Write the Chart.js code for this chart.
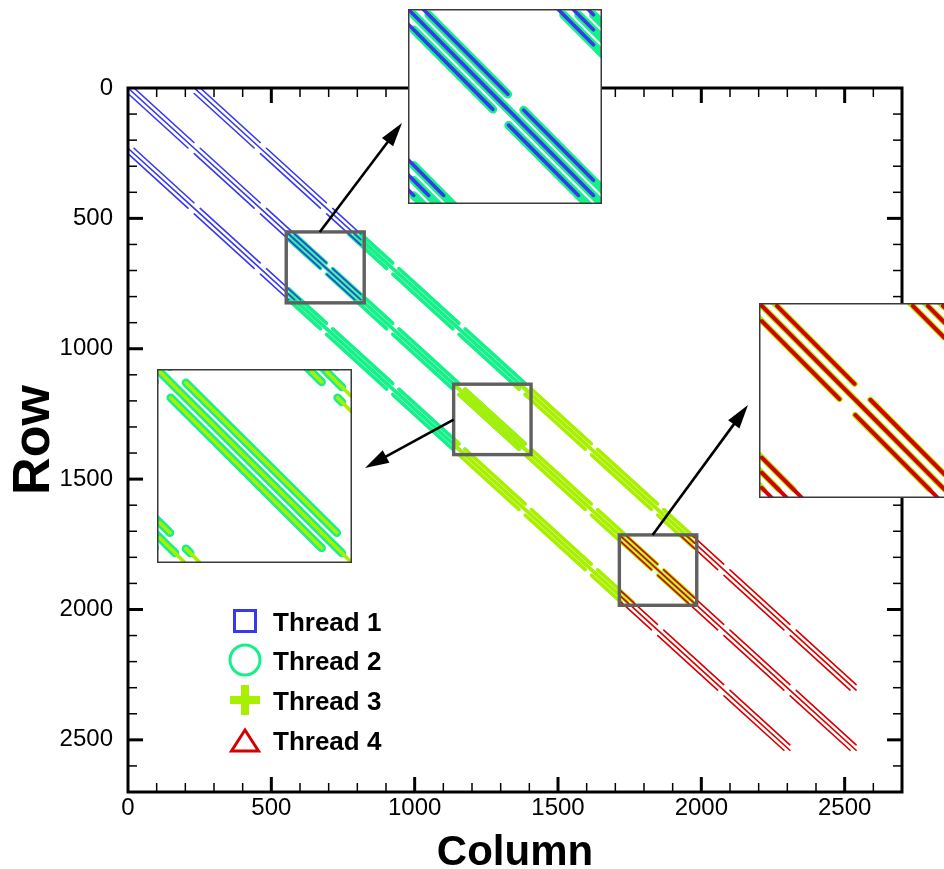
<!DOCTYPE html>
<html>
<head>
<meta charset="utf-8">
<title>Matrix pattern by thread</title>
<script src="https://cdn.jsdelivr.net/npm/chart.js@4.4.1/dist/chart.umd.min.js"></script>
<style>
  html, body { margin: 0; padding: 0; background: #fff; overflow: hidden; width: 944px; height: 869px; }
  #wrap { position: relative; width: 944px; height: 869px; overflow: hidden; }
  canvas { position: absolute; }
  .zoom { background: #fff; }
</style>
</head>
<body>
<div id="wrap">
  <canvas id="main" width="944" height="869" style="left:0;top:0"></canvas>
  <canvas id="zoom1" class="zoom" width="194" height="195" style="left:408px;top:9px"></canvas>
  <canvas id="zoom2" class="zoom" width="195" height="194" style="left:157px;top:369px"></canvas>
  <canvas id="zoom3" class="zoom" width="194" height="195" style="left:759px;top:303px"></canvas>
</div>
<script>
// ---- matrix structure (row / column indices) ----
const matrixSize = 2541;
const layerStarts = [0, 231, 462, 693, 924, 1155, 1386, 1617, 1848, 2079, 2310];
const bandOffsets = [-231, 0, 231];
const stripeOffsets = [-21, 0, 21];
// rows covered inside one layer by each stripe of a band
const stripeRows = { '-21': [21, 230], '0': [0, 230], '21': [0, 209] };

// ---- threads: index block owned by each thread ----
const threadNames = ['Thread 1', 'Thread 2', 'Thread 3', 'Thread 4'];
const threadRanges = [[0, 812], [560, 1392], [1140, 1972], [1718, 2540]];
const threadColors = ['#3838EC', '#16F08A', '#A8F000', '#D60000'];

// ---- axes ----
const tickValues = [0, 500, 1000, 1500, 2000, 2500];
const axisMax = 2700;
const minorStep = 100;

// ---- magnified windows [from, to] on both axes ----
const zoomRanges = [[552, 824], [1136, 1406], [1714, 1984]];
// arrow start on each window frame: [column, row]
const arrowStarts = [[669, 552], [1136, 1272], [1830, 1714]];

// ---- page layout (pixels) ----
const layout = {
  arrowTips: [[402, 123], [365, 468], [748, 405]],
  legend: { markerX: 245, textX: 273, baselines: [631, 670, 710, 750] },
  mainWidths: [1.6, 3.8, 3.7, 1.6],
  zoomWidths: [[3.6, 8.5, 6, 4], [3.6, 8.5, 3.6, 4], [3.6, 8.5, 6.2, 4]]
};

const FONT = "'Liberation Sans', Arial, Helvetica, sans-serif";

function buildThreadData(range) {
  const lo = range[0], hi = range[1];
  const pts = [];
  for (const band of bandOffsets) {
    for (const stripe of stripeOffsets) {
      const off = band + stripe;
      const rows = stripeRows[stripe];
      for (const start of layerStarts) {
        const r0 = Math.max(start + rows[0], lo, lo - off, 0, -off);
        const r1 = Math.min(start + rows[1], hi, hi - off, matrixSize - 1, matrixSize - 1 - off);
        if (r1 <= r0) continue;
        pts.push({ x: r0 + off, y: r0 }, { x: r1 + off, y: r1 }, { x: NaN, y: NaN });
      }
    }
  }
  return pts;
}

const threadData = threadRanges.map(buildThreadData);
// thread 1 over 2, 4 over 3 over 2 (lower order is painted last)
const drawOrder = [0, 3, 2, 1];

function makeDatasets(widths) {
  return threadNames.map((name, i) => ({
    label: name,
    data: threadData[i].slice(),
    showLine: true,
    borderColor: threadColors[i],
    backgroundColor: threadColors[i],
    borderWidth: widths[i],
    borderCapStyle: 'round',
    borderJoinStyle: 'round',
    pointRadius: 0,
    pointHoverRadius: 0,
    pointHitRadius: 0,
    spanGaps: false,
    order: drawOrder[i],
    clip: 0
  }));
}

function line(ctx, x1, y1, x2, y2) {
  ctx.beginPath(); ctx.moveTo(x1, y1); ctx.lineTo(x2, y2); ctx.stroke();
}

function arrow(ctx, x1, y1, x2, y2) {
  const ang = Math.atan2(y2 - y1, x2 - x1);
  const headLen = 24, headHalf = 7;
  const bx = x2 - headLen * Math.cos(ang), by = y2 - headLen * Math.sin(ang);
  ctx.strokeStyle = '#000'; ctx.fillStyle = '#000'; ctx.lineWidth = 2.6; ctx.lineCap = 'butt';
  line(ctx, x1, y1, bx + 4 * Math.cos(ang), by + 4 * Math.sin(ang));
  ctx.beginPath();
  ctx.moveTo(x2, y2);
  ctx.lineTo(bx + headHalf * Math.sin(ang), by - headHalf * Math.cos(ang));
  ctx.lineTo(bx - headHalf * Math.sin(ang), by + headHalf * Math.cos(ang));
  ctx.closePath();
  ctx.fill();
}

function legendMarker(ctx, i, cx, cy) {
  ctx.save();
  ctx.strokeStyle = threadColors[i]; ctx.fillStyle = threadColors[i];
  ctx.lineWidth = 3; ctx.lineJoin = 'miter';
  if (i === 0) {
    ctx.strokeRect(cx - 10.5, cy - 10.5, 21, 21);
  } else if (i === 1) {
    ctx.beginPath(); ctx.arc(cx, cy, 15, 0, Math.PI * 2); ctx.stroke();
  } else if (i === 2) {
    ctx.fillRect(cx - 15, cy - 4, 30, 8);
    ctx.fillRect(cx - 4, cy - 15, 8, 30);
  } else {
    ctx.beginPath();
    ctx.moveTo(cx, cy - 10);
    ctx.lineTo(cx - 13.5, cy + 11);
    ctx.lineTo(cx + 13.5, cy + 11);
    ctx.closePath(); ctx.stroke();
  }
  ctx.restore();
}

const framePlugin = {
  id: 'frameDecor',
  afterDatasetsDraw(chart) {
    const ctx = chart.ctx, a = chart.chartArea;
    const xs = chart.scales.x, ys = chart.scales.y;
    ctx.save();

    // magnified-window frames
    ctx.strokeStyle = '#606060'; ctx.lineWidth = 3.4; ctx.lineJoin = 'miter';
    zoomRanges.forEach(r => {
      const x1 = xs.getPixelForValue(r[0]), x2 = xs.getPixelForValue(r[1]);
      const y1 = ys.getPixelForValue(r[0]), y2 = ys.getPixelForValue(r[1]);
      ctx.strokeRect(x1, y1, x2 - x1, y2 - y1);
    });

    // arrows to the magnified views
    arrowStarts.forEach((s, i) => {
      const tip = layout.arrowTips[i];
      arrow(ctx, xs.getPixelForValue(s[0]), ys.getPixelForValue(s[1]), tip[0], tip[1]);
    });

    // tick marks pointing inward on all four sides
    ctx.strokeStyle = '#000'; ctx.lineCap = 'butt';
    for (let v = minorStep; v < axisMax; v += minorStep) {
      const major = tickValues.includes(v);
      const len = major ? 15 : 9;
      ctx.lineWidth = major ? 3 : 1.5;
      const x = xs.getPixelForValue(v), y = ys.getPixelForValue(v);
      line(ctx, x, a.bottom, x, a.bottom - len);
      line(ctx, x, a.top, x, a.top + len);
      line(ctx, a.left, y, a.left + len, y);
      line(ctx, a.right, y, a.right - len, y);
    }
    ctx.lineWidth = 3;
    ctx.strokeRect(a.left, a.top, a.right - a.left, a.bottom - a.top);

    // legend
    const lg = layout.legend;
    ctx.fillStyle = '#000';
    ctx.font = 'bold 26px ' + FONT;
    ctx.textAlign = 'left'; ctx.textBaseline = 'alphabetic';
    threadNames.forEach((name, i) => {
      const base = lg.baselines[i];
      legendMarker(ctx, i, lg.markerX, base - 10);
      ctx.fillStyle = '#000';
      ctx.fillText(name, lg.textX, base);
    });

    // axis titles
    ctx.font = 'bold 42px ' + FONT;
    ctx.textAlign = 'center';
    ctx.fillText('Column', (a.left + a.right) / 2, 865);
    ctx.save();
    ctx.translate(49, (a.top + a.bottom) / 2);
    ctx.rotate(-Math.PI / 2);
    ctx.font = 'bold 52px ' + FONT;
    ctx.fillText('Row', 0, 0);
    ctx.restore();

    ctx.restore();
  }
};

const tickFont = { family: FONT, size: 24 };

new Chart(document.getElementById('main'), {
  type: 'scatter',
  data: { datasets: makeDatasets(layout.mainWidths) },
  options: {
    responsive: false,
    animation: false,
    events: [],
    layout: { padding: { left: 0, top: 88, right: 42, bottom: 0 } },
    plugins: { legend: { display: false }, tooltip: { enabled: false } },
    scales: {
      x: {
        type: 'linear', min: 0, max: axisMax,
        grid: { display: false, drawTicks: false }, border: { display: false },
        afterFit: s => { s.height = 77; },
        afterBuildTicks: s => { s.ticks = tickValues.map(v => ({ value: v })); },
        ticks: { font: tickFont, color: '#000', padding: 2, maxRotation: 0, autoSkip: false, callback: v => String(v) }
      },
      y: {
        type: 'linear', min: 0, max: axisMax, reverse: true,
        grid: { display: false, drawTicks: false }, border: { display: false },
        afterFit: s => { s.width = 128; },
        afterBuildTicks: s => { s.ticks = tickValues.map(v => ({ value: v })); },
        ticks: { font: tickFont, color: '#000', padding: 15, autoSkip: false, callback: v => String(v) }
      }
    }
  },
  plugins: [framePlugin]
});

const zoomBorder = {
  id: 'zoomBorder',
  afterDraw(chart) {
    const ctx = chart.ctx;
    ctx.save();
    ctx.strokeStyle = '#3a3a3a'; ctx.lineWidth = 1.5;
    ctx.strokeRect(0.75, 0.75, chart.width - 1.5, chart.height - 1.5);
    ctx.restore();
  }
};

zoomRanges.forEach((r, k) => {
  new Chart(document.getElementById('zoom' + (k + 1)), {
    type: 'scatter',
    data: { datasets: makeDatasets(layout.zoomWidths[k]) },
    options: {
      responsive: false,
      animation: false,
      events: [],
      layout: { padding: 0 },
      plugins: { legend: { display: false }, tooltip: { enabled: false } },
      scales: {
        x: { type: 'linear', min: r[0], max: r[1], display: false },
        y: { type: 'linear', min: r[0], max: r[1], reverse: true, display: false }
      }
    },
    plugins: [zoomBorder]
  });
});
</script>
</body>
</html>
